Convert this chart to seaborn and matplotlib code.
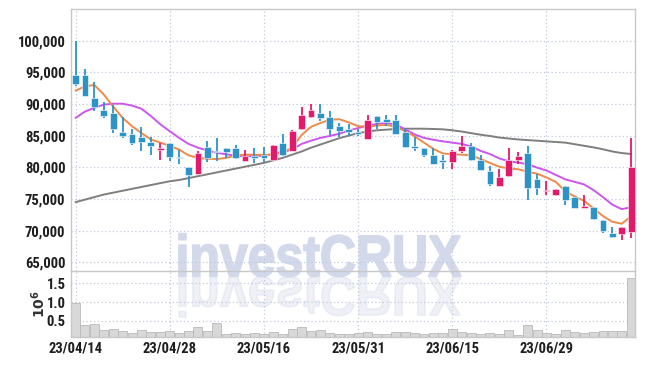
import matplotlib
matplotlib.use("Agg")
import matplotlib.pyplot as plt
import numpy as np
import pandas as pd
import seaborn as sns
from matplotlib import font_manager
from matplotlib.font_manager import FontProperties
from matplotlib.patches import PathPatch
from matplotlib.textpath import TextPath
from matplotlib.transforms import Affine2D, IdentityTransform
from matplotlib.ticker import FuncFormatter, FixedLocator


DATES = [
    "23/04/14", "23/04/17", "23/04/18", "23/04/19", "23/04/20", "23/04/21", "23/04/24", "23/04/25",
    "23/04/26", "23/04/27", "23/04/28", "23/05/02", "23/05/03", "23/05/04", "23/05/08", "23/05/09",
    "23/05/10", "23/05/11", "23/05/12", "23/05/15", "23/05/16", "23/05/17", "23/05/18", "23/05/19",
    "23/05/22", "23/05/23", "23/05/24", "23/05/25", "23/05/26", "23/05/30", "23/05/31", "23/06/01",
    "23/06/02", "23/06/05", "23/06/07", "23/06/08", "23/06/09", "23/06/12", "23/06/13", "23/06/14",
    "23/06/15", "23/06/16", "23/06/19", "23/06/20", "23/06/21", "23/06/22", "23/06/23", "23/06/26",
    "23/06/27", "23/06/28", "23/06/29", "23/06/30", "23/07/03", "23/07/04", "23/07/05", "23/07/06",
    "23/07/07", "23/07/10", "23/07/11", "23/07/12",
]

OPEN = [
    94500, 94500, 90900, 89100, 88500, 85500, 85300, 84800, 84000, 82700,
    83800, 81700, 80000, 79000, 83200, 82600, 83000, 83000, 81000, 81800,
    81900, 81200, 83900, 82500, 86000, 88000, 88500, 88000, 86600, 86000,
    85600, 84500, 88100, 87700, 87400, 85500, 83400, 83100, 82000, 81200,
    80800, 82600, 83400, 81200, 79400, 77000, 78600, 81200, 82200, 78200,
    76200, 75700, 77100, 75300, 73600, 73700, 71700, 69600, 69500, 69800,
]
HIGH = [
    100000, 95600, 93500, 90300, 89900, 87900, 86100, 86400, 84800, 83900,
    83800, 82700, 80000, 82500, 84100, 84600, 83000, 83600, 82700, 83100,
    83200, 83600, 85300, 85900, 89500, 90000, 90000, 88900, 87000, 86900,
    86100, 88200, 88100, 88200, 88300, 86200, 84800, 83100, 83000, 81900,
    82800, 84900, 83900, 81900, 80200, 79700, 83100, 82400, 83400, 78900,
    77900, 76500, 77100, 75300, 75600, 73700, 71700, 70600, 70600, 84700,
]
LOW = [
    92800, 91200, 88900, 87800, 85400, 84600, 83600, 82500, 81900, 81100,
    81000, 80600, 76900, 79000, 80900, 81000, 81400, 81300, 81000, 80700,
    80800, 81200, 81800, 82500, 85900, 87800, 87300, 85100, 84800, 84900,
    85000, 84500, 86000, 86500, 85200, 83100, 82500, 81700, 80600, 79800,
    79800, 82300, 81000, 79500, 77000, 77000, 78500, 80600, 74800, 75600,
    75700, 75400, 74000, 73500, 73600, 71700, 69700, 68800, 68500, 68900,
]
CLOSE = [
    93100, 91300, 89500, 88100, 86000, 84900, 83800, 84000, 83300, 83100,
    81600, 81400, 78800, 82200, 81400, 82400, 82400, 81500, 81800, 81500,
    81400, 83600, 82000, 85700, 88200, 89100, 87800, 86000, 85700, 85600,
    85200, 87400, 87100, 87200, 85300, 83200, 83000, 81900, 80600, 80800,
    82600, 83400, 81200, 79500, 77300, 78400, 81200, 81800, 76700, 76700,
    76400, 76500, 74900, 73500, 73900, 71900, 69900, 69000, 70500, 80100,
]
VOLUME = [
    0.97, 0.39, 0.41, 0.26, 0.28, 0.23, 0.17, 0.25, 0.21, 0.21,
    0.22, 0.18, 0.22, 0.33, 0.23, 0.44, 0.15, 0.18, 0.15, 0.18,
    0.15, 0.21, 0.15, 0.29, 0.34, 0.24, 0.26, 0.19, 0.15, 0.15,
    0.19, 0.21, 0.15, 0.15, 0.21, 0.21, 0.18, 0.15, 0.18, 0.18,
    0.29, 0.21, 0.19, 0.15, 0.18, 0.15, 0.26, 0.12, 0.39, 0.26,
    0.19, 0.15, 0.26, 0.21, 0.19, 0.21, 0.23, 0.23, 0.22, 1.63,
]
MA_SHORT = [
    92100, 92800, 93000, 91500, 89600, 87800, 86500, 85400, 84400, 83900,
    83400, 82800, 81900, 81500, 81350, 81300, 81500, 81850, 82000, 82000,
    81950, 82000, 82300, 83100, 85100, 86400, 87000, 87500, 87600, 87100,
    86500, 86400, 86600, 86700, 86400, 85700, 84900, 83900, 82900, 82200,
    82050, 82000, 81900, 81300, 80700, 80100, 79800, 79700, 79300, 79000,
    78400, 77700, 76200, 75400, 74700, 73500, 72300, 71400, 71100, 72300,
]
MA_MID = [
    87800, 88800, 89400, 89900, 90050, 90050, 89750, 89250, 88100, 86800,
    85700, 84650, 83700, 83100, 82650, 82300, 82050, 81850, 81750, 81750,
    81850, 82100, 82450, 82800, 83700, 84200, 84650, 84950, 85300, 85800,
    86200, 86600, 86850, 87000, 86750, 86000, 85200, 84650, 84350, 84100,
    83900, 83700, 83300, 82600, 82100, 81400, 80950, 80750, 80500, 79950,
    79500, 78800, 78100, 77700, 77300, 76400, 75300, 74100, 73400, 73700,
]
MA_LONG = [
    74500, 74900, 75300, 75700, 76000, 76300, 76600, 76900, 77200, 77500,
    77800, 78000, 78300, 78600, 78900, 79200, 79500, 79800, 80100, 80400,
    80700, 81100, 81500, 82000, 82500, 83100, 83600, 84100, 84600, 85000,
    85400, 85650, 85850, 85950, 86050, 86100, 86100, 86100, 86050, 86000,
    85850, 85650, 85400, 85150, 84950, 84700, 84550, 84400, 84300, 84200,
    84100, 84000, 83900, 83650, 83400, 83150, 82850, 82500, 82250, 82100,
]
LABEL_EVERY = 10

UP_COLOR = "#e3196b"
DOWN_COLOR = "#2d93c6"
GRID_COLOR = "#c3cadb"
SPINE_COLOR = "#c8c8c8"
MARK_COLOR = "#d3d9ea"


def pick_font(names, fallback="DejaVu Sans"):
    installed = {f.name for f in font_manager.fontManager.ttflist}
    for name in names:
        if name in installed:
            return name
    return fallback


def style_axes(ax, size):
    ax.set_facecolor("none")
    for side in ["top", "bottom", "left", "right"]:
        ax.spines[side].set_color(SPINE_COLOR)
        ax.spines[side].set_linewidth(1.0)
    ax.grid(True, color=GRID_COLOR, linestyle=(0, (1, 2)), linewidth=0.9)
    ax.tick_params(length=0, pad=4, labelsize=size, labelcolor="#1e1e1e")


def draw_watermark(fig, family):
    # big "investCRUX" behind both panels, plus a faint upside-down reflection
    fp = FontProperties(family=family, weight="bold")
    path = TextPath((0, 0), "investCRUX", prop=fp, size=100)
    ext = path.get_extents()
    x0, x1 = 179, 461
    base = 366 - 276
    height = 42
    sx = (x1 - x0) / ext.width
    sy = height / 72.0
    main = Affine2D().translate(-ext.x0, 0).scale(sx, sy).translate(x0, base)
    fig.patches.append(PathPatch(main.transform_path(path), facecolor=MARK_COLOR, edgecolor=MARK_COLOR,
                                 linewidth=1.3, transform=IdentityTransform(), zorder=-5, figure=fig))
    refl = Affine2D().translate(-ext.x0, 0).scale(sx, -sy * 0.95).translate(x0, base - 1)
    fig.patches.append(PathPatch(refl.transform_path(path), facecolor=MARK_COLOR, edgecolor=MARK_COLOR,
                                 linewidth=1.3, alpha=0.35, transform=IdentityTransform(), zorder=-5,
                                 figure=fig))


def main():
    sns.set_theme(style="white")
    tick_font = pick_font(["Roboto Condensed", "Liberation Sans Narrow", "Open Sans Condensed", "Lato"])
    narrow = tick_font != "Lato"
    size = 10.5 if narrow else 9.2
    plt.rcParams["font.family"] = [tick_font, "DejaVu Sans"]
    plt.rcParams["font.weight"] = "bold"

    df = pd.DataFrame({
        "idx": np.arange(len(DATES)), "date": DATES, "open": OPEN, "high": HIGH,
        "low": LOW, "close": CLOSE, "volume": VOLUME,
        "ma_short": MA_SHORT, "ma_mid": MA_MID, "ma_long": MA_LONG,
    })
    df["up"] = df["close"] >= df["open"]
    df["color"] = np.where(df["up"], UP_COLOR, DOWN_COLOR)

    fig = plt.figure(figsize=(6.45, 3.66), dpi=100, facecolor="white")
    W, H = 645, 366
    ax = fig.add_axes([71 / W, (H - 271) / H, 564 / W, 262 / H])
    axv = fig.add_axes([71 / W, (H - 337.3) / H, 564 / W, 66.3 / H], sharex=ax)
    draw_watermark(fig, pick_font(["Liberation Sans", "DejaVu Sans"]))

    style_axes(ax, size)
    style_axes(axv, size)

    # moving averages
    sns.lineplot(data=df, x="idx", y="ma_long", color="#7f7f7f", linewidth=1.4, ax=ax, zorder=2)
    sns.lineplot(data=df, x="idx", y="ma_mid", color="#cc55ee", linewidth=1.4, ax=ax, zorder=2)
    sns.lineplot(data=df, x="idx", y="ma_short", color="#ee8a4a", linewidth=1.4, ax=ax, zorder=2)

    # candles
    ax.vlines(df["idx"], df["low"], df["high"], colors=df["color"], linewidth=1.3, zorder=3)
    body_lo = df[["open", "close"]].min(axis=1)
    body_h = (df["close"] - df["open"]).abs().clip(lower=180)
    ax.bar(df["idx"], body_h, bottom=body_lo, width=0.72, color=df["color"], edgecolor="white",
           linewidth=0.4, zorder=4)

    ax.set_xlim(-0.48, 59.4)
    ax.set_ylim(63630, 105000)
    ax.yaxis.set_major_locator(FixedLocator(np.arange(65000, 100001, 5000)))
    ax.yaxis.set_major_formatter(FuncFormatter(lambda v, p: f"{int(v):,}"))
    ax.set_xlabel("")
    ax.set_ylabel("")
    ax.tick_params(axis="x", labelbottom=False)

    # volume
    axv.bar(df["idx"], df["volume"], width=0.95, color="#d8d8d8", edgecolor="#b9b9b9", linewidth=0.6,
            zorder=2)
    axv.set_ylim(0.066, 1.825)
    axv.yaxis.set_major_locator(FixedLocator([0.5, 1.0, 1.5]))
    axv.yaxis.set_major_formatter(FuncFormatter(lambda v, p: f"{v:.1f}"))
    ticks = list(range(0, len(DATES), LABEL_EVERY))
    axv.xaxis.set_major_locator(FixedLocator(ticks))
    axv.set_xticklabels([DATES[i] for i in ticks])
    axv.tick_params(axis="x", pad=3)
    axv.set_ylabel("$10^{6}$", fontsize=10, color="#333333", labelpad=-1, fontweight="normal")
    axv.spines["top"].set_visible(False)

    fig.savefig("out.png", dpi=100, facecolor="white")
    plt.close(fig)


if __name__ == "__main__":
    main()
